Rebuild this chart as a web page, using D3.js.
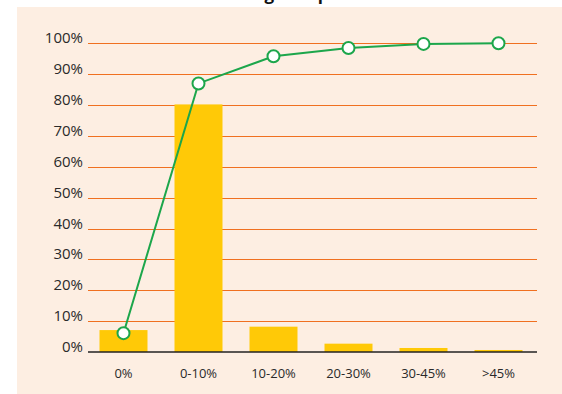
<!DOCTYPE html>
<html>
<head>
<meta charset="utf-8">
<script src="https://cdn.jsdelivr.net/npm/d3@7"></script>
<style>
  html, body { margin: 0; padding: 0; background: #ffffff; }
  svg { display: block; }
  text { font-family: "Open Sans", sans-serif; fill: #2a2a2a; }
</style>
</head>
<body>
<svg id="chart" width="562" height="394"></svg>
<script>
// Categories and values
const categories = ["0%", "0-10%", "10-20%", "20-30%", "30-45%", ">45%"];
const shareValues = [7.1, 80.2, 8.2, 2.7, 1.3, 0.65];        // bars, % of total
const cumulativeValues = [6.1, 87.0, 95.8, 98.5, 99.8, 100]; // line, cumulative %
const yTicks = [0, 10, 20, 30, 40, 50, 60, 70, 80, 90, 100];
const titleText = "Tariff change for products";

const svg = d3.select("#chart");
const W = 562, H = 394;

// Background panel
svg.append("rect")
  .attr("x", 17).attr("y", 7)
  .attr("width", W - 17).attr("height", H - 7)
  .attr("fill", "#fdeee2");

// Title (sits mostly above the panel)
svg.append("text")
  .attr("x", 283).attr("y", 0)
  .attr("text-anchor", "middle")
  .attr("font-size", 17)
  .attr("font-weight", 700)
  .style("fill", "#111")
  .text(titleText);

const x = d3.scaleBand()
  .domain(categories)
  .range([86, 536])
  .paddingInner(0.36)
  .paddingOuter(0.18);

const y = d3.scaleLinear()
  .domain([0, 100])
  .range([352, 43.3]);

const gridX0 = 88, gridX1 = 537;

// Gridlines
svg.append("g")
  .selectAll("line")
  .data(yTicks.filter(d => d > 0))
  .join("line")
  .attr("x1", gridX0).attr("x2", gridX1)
  .attr("y1", d => Math.round(y(d)) + 0.5)
  .attr("y2", d => Math.round(y(d)) + 0.5)
  .attr("stroke", "#f07020")
  .attr("stroke-width", 1);

// Y tick labels
svg.append("g")
  .selectAll("text")
  .data(yTicks)
  .join("text")
  .attr("x", 83)
  .attr("y", d => y(d))
  .attr("text-anchor", "end")
  .attr("font-size", 15)
  .text(d => d + "%");

// Bars
svg.append("g")
  .selectAll("rect")
  .data(categories)
  .join("rect")
  .attr("x", d => x(d))
  .attr("width", x.bandwidth())
  .attr("y", (d, i) => y(shareValues[i]))
  .attr("height", (d, i) => y(0) - y(shareValues[i]))
  .attr("fill", "#ffc907");

// Baseline axis
svg.append("line")
  .attr("x1", gridX0).attr("x2", gridX1)
  .attr("y1", y(0)).attr("y2", y(0))
  .attr("stroke", "#222")
  .attr("stroke-width", 1.5);

// X labels
svg.append("g")
  .selectAll("text")
  .data(categories)
  .join("text")
  .attr("x", d => x(d) + x.bandwidth() / 2)
  .attr("y", 378)
  .attr("text-anchor", "middle")
  .attr("font-size", 13)
  .text(d => d);

// Cumulative line
const pts = categories.map((c, i) => [x(c) + x.bandwidth() / 2, y(cumulativeValues[i])]);
svg.append("path")
  .attr("d", d3.line()(pts))
  .attr("fill", "none")
  .attr("stroke", "#1ca64b")
  .attr("stroke-width", 2);

svg.append("g")
  .selectAll("circle")
  .data(pts)
  .join("circle")
  .attr("cx", d => d[0])
  .attr("cy", d => d[1])
  .attr("r", 6)
  .attr("fill", "#ffffff")
  .attr("stroke", "#1ca64b")
  .attr("stroke-width", 2);
</script>
</body>
</html>
